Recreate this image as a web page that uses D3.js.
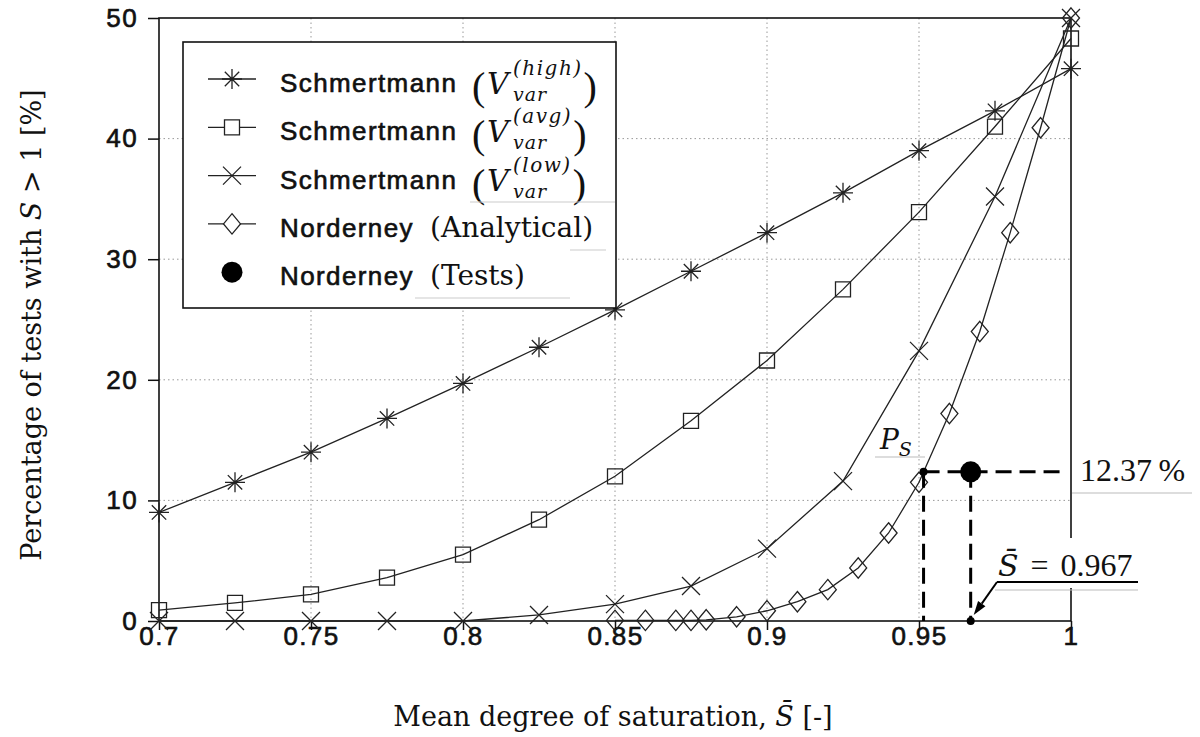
<!DOCTYPE html>
<html>
<head>
<meta charset="utf-8">
<script src="https://cdn.jsdelivr.net/npm/d3@7"></script>
<style>
  body { margin: 0; background: #fff; }
  .sans { font-family: "Liberation Sans", Arial, sans-serif; font-size: 26px; letter-spacing: 1.4px; fill: #111; stroke: #111; stroke-width: 0.65px; }
  .serif { font-family: "DejaVu Serif", serif; fill: #111; }
  .num { font-family: "Liberation Serif", serif; fill: #111; }
</style>
</head>
<body>
<div id="chart"></div>
<script>
// saturation values used by the Schmertmann curves
var satGrid = [0.7, 0.725, 0.75, 0.775, 0.8, 0.825, 0.85, 0.875, 0.9, 0.925, 0.95, 0.975, 1.0];
var pctHigh = [9.0, 11.5, 14.0, 16.8, 19.7, 22.7, 25.8, 29.0, 32.2, 35.5, 39.0, 42.3, 45.8];
var pctAvg  = [0.9, 1.5, 2.2, 3.6, 5.5, 8.4, 12.0, 16.6, 21.6, 27.5, 33.9, 41.0, 48.3];
var pctLow  = [0, 0, 0, 0, 0, 0.5, 1.4, 2.9, 6.0, 11.6, 22.4, 35.2, 50.0];

// Norderney analytical curve
var satNord = [0.85, 0.86, 0.87, 0.875, 0.88, 0.89, 0.9, 0.91, 0.92, 0.93, 0.94, 0.95, 0.96, 0.97, 0.98, 0.99, 1.0];
var pctNord = [0.05, 0.05, 0.05, 0.05, 0.1, 0.35, 0.85, 1.6, 2.6, 4.4, 7.3, 11.5, 17.2, 24.0, 32.2, 40.9, 50.0];

// Norderney tests
var testSat = 0.967, testPct = 12.37;
var psSat = 0.9515;

var xTicks = [0.7, 0.75, 0.8, 0.85, 0.9, 0.95, 1];
var yTicks = [0, 10, 20, 30, 40, 50];

var W = 1200, H = 737;
var margin = { top: 18, right: 129, bottom: 116, left: 159 };
var width = W - margin.left - margin.right,
    height = H - margin.top - margin.bottom;

var x = d3.scaleLinear().domain([0.7, 1]).range([0, width]);
var y = d3.scaleLinear().domain([0, 50]).range([height, 0]);

var svg = d3.select("#chart").append("svg")
  .attr("width", W).attr("height", H);
var g = svg.append("g")
  .attr("transform", "translate(" + margin.left + "," + margin.top + ")");

// dotted grid
g.selectAll(".gx").data(xTicks.slice(1, -1)).enter().append("line")
  .attr("x1", function(d) { return x(d); }).attr("x2", function(d) { return x(d); })
  .attr("y1", 0).attr("y2", height)
  .attr("stroke", "#999").attr("stroke-width", 1).attr("stroke-dasharray", "1.5,3");
g.selectAll(".gy").data(yTicks.slice(1, -1)).enter().append("line")
  .attr("y1", function(d) { return y(d); }).attr("y2", function(d) { return y(d); })
  .attr("x1", 0).attr("x2", width)
  .attr("stroke", "#999").attr("stroke-width", 1).attr("stroke-dasharray", "1.5,3");

// axes
var fmt = function(d) { return String(+d.toFixed(2)); };
var xAx = g.append("g")
  .attr("transform", "translate(0," + height + ")")
  .call(d3.axisBottom(x).tickValues(xTicks).tickSize(9).tickFormat(fmt));
xAx.select(".domain").remove();
xAx.selectAll("line").attr("stroke", "#111").attr("stroke-width", 1.5);
xAx.selectAll("text").attr("class", "sans").attr("y", 6).attr("dy", "0.71em").attr("font-size", null).attr("font-family", null);

var yAx = g.append("g")
  .call(d3.axisLeft(y).tickValues(yTicks).tickSize(11).tickPadding(10).tickFormat(fmt));
yAx.select(".domain").remove();
yAx.selectAll("line").attr("stroke", "#111").attr("stroke-width", 1.5);
yAx.selectAll("text").attr("class", "sans").attr("font-size", null).attr("font-family", null);

// frame
g.append("rect").attr("width", width).attr("height", height)
  .attr("fill", "none").attr("stroke", "#111").attr("stroke-width", 1.6);

// markers
function asterisk(r) {
  var k = 0.72 * r;
  return "M" + (-r) + ",0H" + r + "M0," + (-r) + "V" + r +
    "M" + (-k) + "," + (-k) + "L" + k + "," + k + "M" + (-k) + "," + k + "L" + k + "," + (-k);
}
function square(r) { return "M" + (-r) + "," + (-r) + "H" + r + "V" + r + "H" + (-r) + "Z"; }
function cross(r) { return "M" + (-r) + "," + (-r) + "L" + r + "," + r + "M" + (-r) + "," + r + "L" + r + "," + (-r); }
function diamond(r) { return "M0," + (-r * 1.2) + "L" + r + ",0L0," + (r * 1.2) + "L" + (-r) + ",0Z"; }

var series = [
  { xs: satGrid, ys: pctHigh, mark: asterisk(10) },
  { xs: satGrid, ys: pctAvg, mark: square(7.5) },
  { xs: satGrid, ys: pctLow, mark: cross(9) },
  { xs: satNord, ys: pctNord, mark: diamond(8.5) }
];

var line = d3.line().x(function(d) { return x(d[0]); }).y(function(d) { return y(d[1]); });

series.forEach(function(s) {
  var pts = s.xs.map(function(v, i) { return [v, s.ys[i]]; });
  g.append("path").datum(pts).attr("d", line)
    .attr("fill", "none").attr("stroke", "#222").attr("stroke-width", 1.3);
  g.selectAll(null).data(pts).enter().append("path")
    .attr("transform", function(d) { return "translate(" + x(d[0]) + "," + y(d[1]) + ")"; })
    .attr("d", s.mark)
    .attr("fill", "none").attr("stroke", "#222").attr("stroke-width", 1.3);
});

// annotation: tests result
var yT = y(testPct), xP = x(psSat), xS = x(testSat);
var dash = { stroke: "#000", "stroke-width": 3, "stroke-dasharray": "16,8" };
function dashed(x1, y1, x2, y2) {
  var l = g.append("line").attr("x1", x1).attr("y1", y1).attr("x2", x2).attr("y2", y2);
  for (var k in dash) l.attr(k, dash[k]);
}
dashed(xP, yT, width - 4, yT);
dashed(xP, yT, xP, height);
dashed(xS, yT, xS, height);
g.append("circle").attr("cx", xP).attr("cy", yT).attr("r", 4).attr("fill", "#000");
g.append("circle").attr("cx", xS).attr("cy", height).attr("r", 4).attr("fill", "#000");
g.append("circle").attr("cx", xS).attr("cy", yT).attr("r", 10.5).attr("fill", "#000");

// P_S label
g.append("line").attr("x1", 716).attr("x2", 766).attr("y1", 439).attr("y2", 439)
  .attr("stroke", "#bbb").attr("stroke-width", 1.2);
var ps = g.append("text").attr("class", "serif").attr("x", 721).attr("y", 431)
  .attr("font-size", 28).attr("font-style", "italic");
ps.append("tspan").text("P");
ps.append("tspan").attr("font-size", 19).attr("dy", 7).text("S");

// 12.37 % label
svg.append("text").attr("class", "num").attr("x", 1080).attr("y", 481)
  .attr("font-size", 32).text("12.37\u2009%");
svg.append("line").attr("x1", 1072).attr("x2", 1192).attr("y1", 493).attr("y2", 493)
  .attr("stroke", "#bbb").attr("stroke-width", 1.2);

// S-bar label with arrow
svg.append("rect").attr("x", 992).attr("y", 538).attr("width", 150).attr("height", 50).attr("fill", "#fff");
var sb = svg.append("text").attr("class", "num").attr("x", 998).attr("y", 576).attr("font-size", 32);
sb.append("tspan").attr("font-family", "DejaVu Serif").attr("font-style", "italic").attr("font-size", 30).text("S\u0304");
sb.append("tspan").attr("dx", 12).text("=");
sb.append("tspan").attr("dx", 12).text("0.967");
svg.append("line").attr("x1", 997).attr("x2", 1138).attr("y1", 582).attr("y2", 582)
  .attr("stroke", "#000").attr("stroke-width", 2);
svg.append("line").attr("x1", 995).attr("x2", 1138).attr("y1", 590).attr("y2", 590)
  .attr("stroke", "#bbb").attr("stroke-width", 1.2);
(function() {
  var tx = margin.left + xS + 3, ty = margin.top + height - 6, sx = 997, sy = 582;
  var dx = tx - sx, dy = ty - sy, n = Math.sqrt(dx * dx + dy * dy);
  var ux = dx / n, uy = dy / n, hl = 14, hw = 4.5;
  var bx = tx - ux * hl, by = ty - uy * hl;
  svg.append("line").attr("x1", sx).attr("y1", sy).attr("x2", bx).attr("y2", by)
    .attr("stroke", "#000").attr("stroke-width", 2);
  svg.append("path")
    .attr("d", "M" + tx + "," + ty + "L" + (bx - uy * hw) + "," + (by + ux * hw) +
      "L" + (bx + uy * hw) + "," + (by - ux * hw) + "Z")
    .attr("fill", "#000");
})();

// legend
var leg = svg.append("g");
leg.append("rect").attr("x", 183).attr("y", 42).attr("width", 433).attr("height", 266)
  .attr("fill", "#fff").attr("stroke", "#111").attr("stroke-width", 1.6);

var legRows = [
  { name: "Schmertmann", sup: "(high)", mark: asterisk(10), line: true },
  { name: "Schmertmann", sup: "(avg)", mark: square(7.5), line: true },
  { name: "Schmertmann", sup: "(low)", mark: cross(9), line: true },
  { name: "Norderney", word: "(Analytical)", mark: diamond(8.5), line: true },
  { name: "Norderney", word: "(Tests)", dot: true }
];
legRows.forEach(function(r, i) {
  var base = 92 + i * 48.3, cy = base - 13;
  if (r.line) {
    leg.append("line").attr("x1", 208).attr("x2", 256).attr("y1", cy).attr("y2", cy)
      .attr("stroke", "#222").attr("stroke-width", 1.3);
    leg.append("path").attr("transform", "translate(232," + cy + ")").attr("d", r.mark)
      .attr("fill", r.mark.indexOf("Z") > 0 ? "#fff" : "none").attr("stroke", "#222").attr("stroke-width", 1.3);
  }
  if (r.dot) leg.append("circle").attr("cx", 232).attr("cy", cy).attr("r", 10.5).attr("fill", "#000");
  leg.append("text").attr("class", "sans").attr("x", 280).attr("y", base).text(r.name);
  if (r.word) {
    leg.append("text").attr("class", "serif").attr("x", 430).attr("y", base)
      .attr("font-size", 28).text(r.word);
  } else {
    leg.append("text").attr("class", "num").attr("x", 472).attr("y", base + 8)
      .attr("font-size", 40).text("(");
    leg.append("text").attr("class", "serif").attr("x", 487).attr("y", base + 2)
      .attr("font-size", 30).attr("font-style", "italic").text("V");
    var sup = leg.append("text").attr("class", "serif").attr("x", 513).attr("y", base - 17)
      .attr("font-size", 20).attr("font-style", "italic").attr("letter-spacing", 1.5).text(r.sup);
    leg.append("text").attr("class", "serif").attr("x", 513).attr("y", base + 9)
      .attr("font-size", 19).attr("font-style", "italic").attr("letter-spacing", 1).text("var");
    var w = Math.max(sup.node().getComputedTextLength(), 34);
    leg.append("text").attr("class", "num").attr("x", 513 + w + 1).attr("y", base + 8)
      .attr("font-size", 40).text(")");
  }
});
// faint scan lines in the legend
[[470, 615, 202], [570, 606, 250], [415, 570, 298]].forEach(function(s) {
  leg.append("line").attr("x1", s[0]).attr("x2", s[1]).attr("y1", s[2]).attr("y2", s[2])
    .attr("stroke", "#ccc").attr("stroke-width", 1.2);
});

// axis titles
var xt = svg.append("text").attr("class", "serif").attr("font-size", 27)
  .attr("x", margin.left + width / 2 - 2).attr("y", 726).attr("text-anchor", "middle");
xt.append("tspan").text("Mean degree of saturation, ");
xt.append("tspan").attr("font-style", "italic").text("S\u0304");
xt.append("tspan").text(" [-]");

var yt = svg.append("text").attr("class", "serif").attr("font-size", 27)
  .attr("transform", "translate(41,325) rotate(-90)").attr("text-anchor", "middle");
yt.append("tspan").text("Percentage of tests with ");
yt.append("tspan").attr("font-style", "italic").text("S");
yt.append("tspan").text(" > 1 [%]");
</script>
</body>
</html>
